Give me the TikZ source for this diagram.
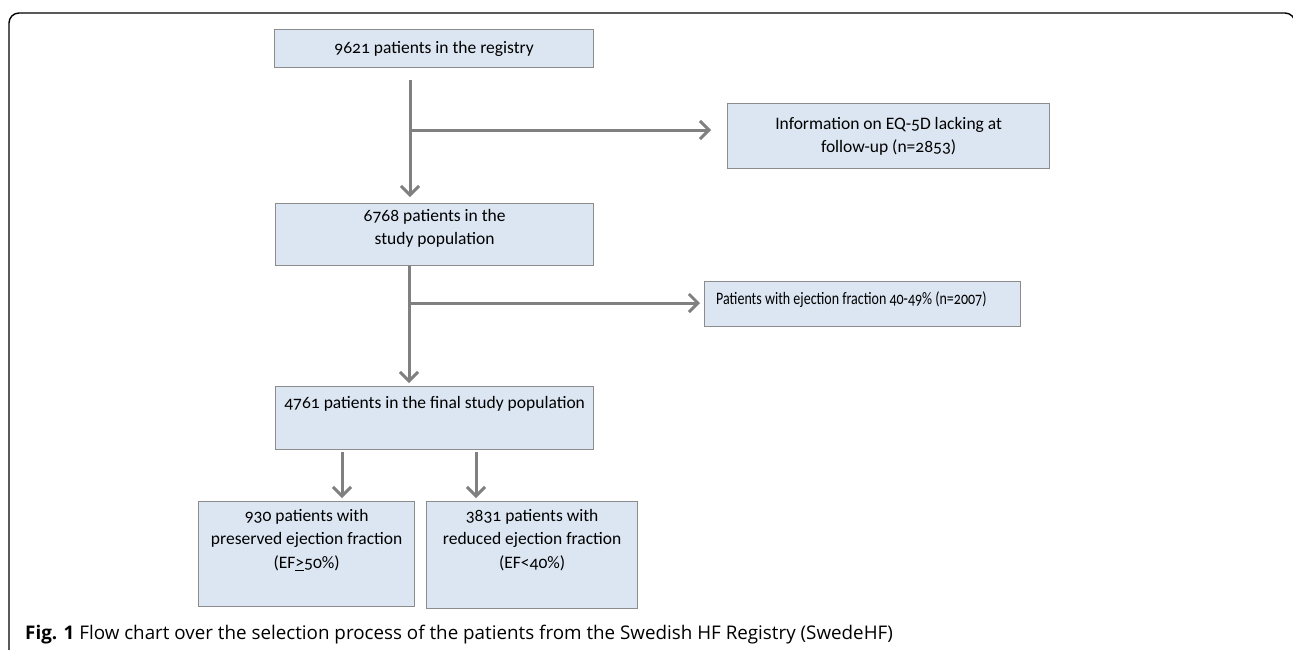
\documentclass[tikz,border=0pt]{standalone}
\usepackage{fontspec}
\setmainfont{Carlito}[Numbers=OldStyle]
\newfontfamily\capfont{Open Sans}
\usetikzlibrary{arrows.meta}
\definecolor{boxfill}{HTML}{DCE6F2}
\definecolor{boxline}{HTML}{8C8C8C}
\definecolor{arrowc}{HTML}{808080}
\tikzset{
  box/.style={draw=boxline, fill=boxfill, line width=1.3pt, rectangle, inner sep=0pt, anchor=north west},
  txt/.style={font=\fontsize{17.5}{23.5}\selectfont, align=center, inner sep=0pt},
  flow/.style={draw=arrowc, line width=3pt, -{Straight Barb[length=9pt,width=18pt]}}
}
\begin{document}
\begin{tikzpicture}[x=1pt,y=-1pt]
\useasboundingbox (0,0) rectangle (1293,649);
% frame
\draw[line width=1.4pt, rounded corners=10pt] (9,660) -- (9,13) -- (1295,13) -- (1295,40);
% boxes
\node[box, minimum width=319pt, minimum height=38pt] (b1) at (274,29) {};
\node[txt] (t1) at (b1.center) {9621 patients in the registry};
\node[box, minimum width=322pt, minimum height=65pt] (b2) at (727,103) {};
\node[txt] (t2) at (b2.center) {Information on EQ-5D lacking at\\follow-up (n=2853)};
\node[box, minimum width=318pt, minimum height=62pt] (b3) at (275,203) {};
\node[txt, anchor=north] (t3) at ([yshift=-6pt]b3.north) {6768 patients in the\\study population};
\node[box, minimum width=316pt, minimum height=45pt] (b5) at (704,281) {};
\node[txt, anchor=north west] (t5) at ([xshift=12pt,yshift=-10pt]b5.north west) {\scalebox{0.8}[1]{Patients with ejection fraction 40-49\% (n=2007)}};
\node[box, minimum width=318pt, minimum height=63pt] (b4) at (275,386) {};
\node[txt, anchor=north] (t4) at ([yshift=-10pt]b4.north) {4761 patients in the final study population};
\node[box, minimum width=216pt, minimum height=105pt] (b6) at (198,501) {};
\node[txt, anchor=north] (t6) at ([yshift=-8pt]b6.north) {930 patients with\\preserved ejection fraction\\(EF\underline{>}50\%)};
\node[box, minimum width=211pt, minimum height=107pt] (b7) at (426,501) {};
\node[txt, anchor=north] (t7) at ([yshift=-8pt]b7.north) {3831 patients with\\reduced ejection fraction\\(EF<40\%)};
% connectors
\coordinate (s1) at (410,80);
\coordinate (j1) at (410,130);
\draw[flow] (s1) -- ([yshift=6pt]b3.north -| s1);
\draw[flow] (j1) -- ([xshift=-16pt]b2.west |- j1);
\coordinate (j2) at (409,303);
\draw[flow] (b3.south -| j2) -- ([yshift=3pt]b4.north -| j2);
\draw[flow] (j2) -- ([xshift=-4pt]b5.west |- j2);
\draw[flow] ([yshift=-2pt]b4.south -| 342,0) -- ([yshift=3pt]b6.north -| 342,0);
\draw[flow] ([yshift=-2pt]b4.south -| 476,0) -- ([yshift=3pt]b7.north -| 476,0);
% caption
\node[anchor=base west, inner sep=0pt, font=\capfont\fontsize{18.8}{20}\selectfont] (cap) at (25,639) {\textbf{Fig. 1} Flow chart over the selection process of the patients from the Swedish HF Registry (SwedeHF)};
\end{tikzpicture}
\end{document}
